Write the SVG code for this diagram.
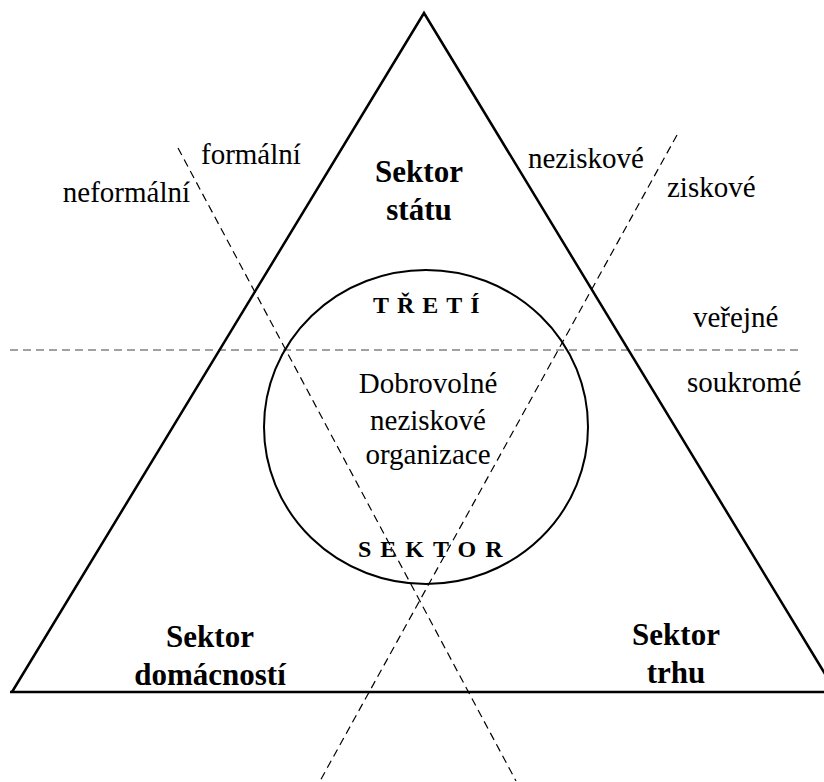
<svg xmlns="http://www.w3.org/2000/svg" width="824" height="782" viewBox="0 0 824 782">
<style>
text{font-family:'Liberation Serif','Times New Roman',Times,'DejaVu Serif',serif;fill:#000}
.t{font-size:29px}
.b{font-size:31px;font-weight:bold;text-anchor:middle}
.s{font-size:24px;font-weight:bold}
.d{fill:none;stroke:#000;stroke-width:1.2;stroke-dasharray:8 5}
</style>
<rect width="824" height="782" fill="#fff"/>
<g id="connectors">
<line class="d" x1="10" y1="350" x2="800" y2="350" stroke-dasharray="9 5" style="stroke:#444"/>
<line class="d" x1="178" y1="148" x2="516" y2="781"/>
<line class="d" x1="677" y1="135" x2="320" y2="781"/>
</g>
<g id="triangle">
<polyline points="12,692 424,13 836,692" fill="none" stroke="#000" stroke-width="2.5"/>
<line x1="10" y1="692" x2="824" y2="692" stroke="#000" stroke-width="2.5"/>
</g>
<g id="circle">
<ellipse cx="426" cy="427" rx="162" ry="157" fill="none" stroke="#000" stroke-width="2"/>
</g>
<g id="labels">
<text class="t" x="201" y="164">formální</text>
<text class="t" x="190" y="202" text-anchor="end">neformální</text>
<text class="t" x="528" y="168">neziskové</text>
<text class="t" x="667" y="197">ziskové</text>
<text class="t" x="693" y="327">veřejné</text>
<text class="t" x="687" y="392">soukromé</text>
</g>
<g id="state">
<text class="b" x="419" y="182">Sektor</text>
<text class="b" x="419" y="220">státu</text>
</g>
<g id="household">
<text class="b" x="210" y="647">Sektor</text>
<text class="b" x="210" y="685">domácností</text>
</g>
<g id="market">
<text class="b" x="676" y="645">Sektor</text>
<text class="b" x="676" y="683">trhu</text>
</g>
<g id="third">
<text class="s" x="373" y="313" letter-spacing="8">TŘETÍ</text>
<text class="t" x="428" y="393" text-anchor="middle">Dobrovolné</text>
<text class="t" x="428" y="430" text-anchor="middle">neziskové</text>
<text class="t" x="428" y="464" text-anchor="middle">organizace</text>
<text class="s" x="358" y="557" letter-spacing="9">SEKTOR</text>
</g>
</svg>
